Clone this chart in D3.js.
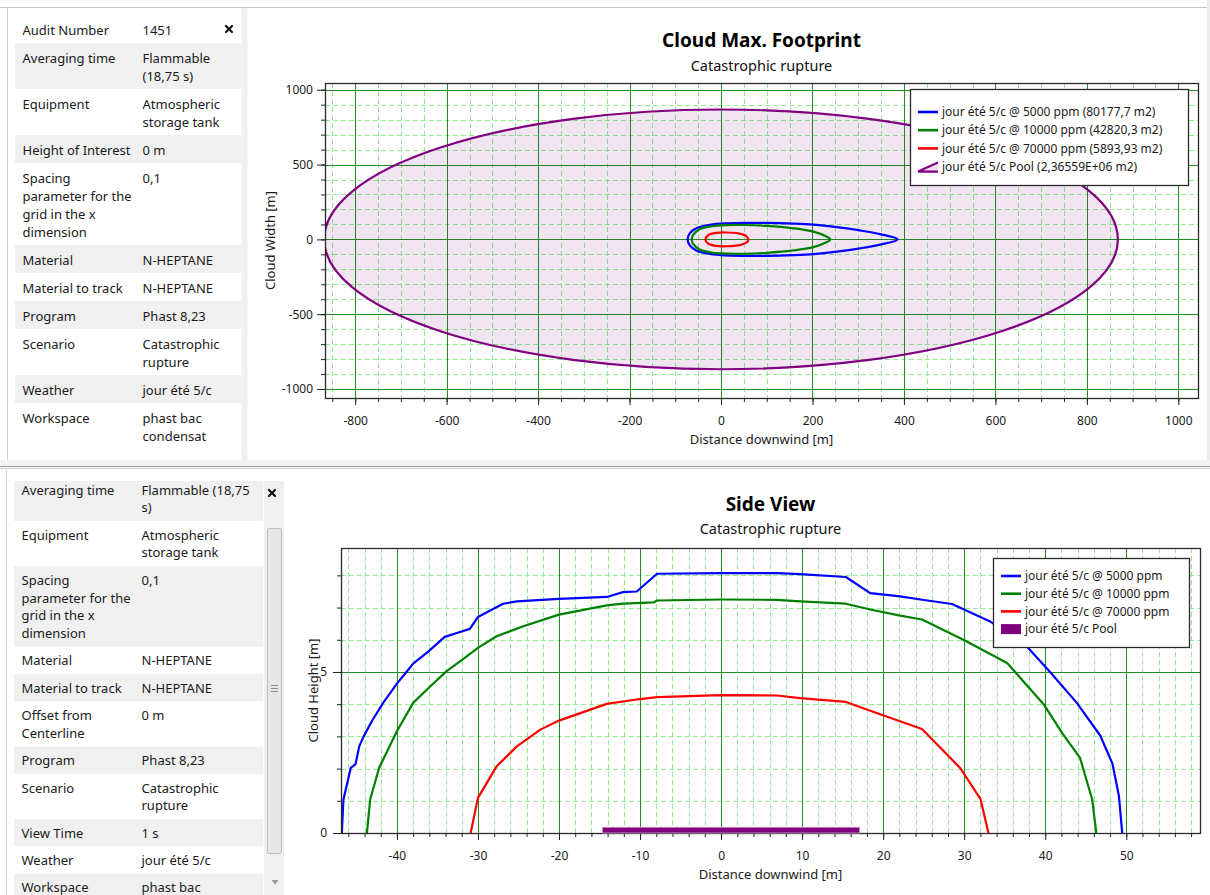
<!DOCTYPE html>
<html><head><meta charset="utf-8">
<script src="https://cdn.jsdelivr.net/npm/d3@7"></script>
<style>
html,body{margin:0;padding:0;background:#fff;overflow:hidden}
svg{display:block;font-family:"Noto Sans",sans-serif}
</style></head><body>
<svg id="c" width="1210" height="895"></svg>
<script>
// ---------------- DATA ----------------
// property tables
const footprintPropLabels = [["Audit Number"],["Averaging time"],["Equipment"],["Height of Interest"],["Spacing","parameter for the","grid in the x","dimension"],["Material"],["Material to track"],["Program"],["Scenario"],["Weather"],["Workspace"]];
const footprintPropValues = [["1451"],["Flammable","(18,75 s)"],["Atmospheric","storage tank"],["0 m"],["0,1"],["N-HEPTANE"],["N-HEPTANE"],["Phast 8,23"],["Catastrophic","rupture"],["jour été 5/c"],["phast bac","condensat"]];
const sidePropLabels = [["Averaging time"],["Equipment"],["Spacing","parameter for the","grid in the x","dimension"],["Material"],["Material to track"],["Offset from","Centerline"],["Program"],["Scenario"],["View Time"],["Weather"],["Workspace"]];
const sidePropValues = [["Flammable (18,75","s)"],["Atmospheric","storage tank"],["0,1"],["N-HEPTANE"],["N-HEPTANE"],["0 m"],["Phast 8,23"],["Catastrophic","rupture"],["1 s"],["jour été 5/c"],["phast bac"]];

// Cloud Max. Footprint: half-width profiles [distance, half width] (symmetric about y = 0)
const footprintNames = ["jour été 5/c @ 5000 ppm (80177,7 m2)","jour été 5/c @ 10000 ppm (42820,3 m2)","jour été 5/c @ 70000 ppm (5893,93 m2)","jour été 5/c Pool (2,36559E+06 m2)"];
const fp5000  = [[-73,0],[-68,42],[-53,76],[-31,94],[0,105],[49,110],[100,110],[158,105],[202,98],[253,82],[304,60],[348,35],[386,0]];
const fp10000 = [[-64,0],[-61,30],[-46,69],[-24,86],[0,94],[49,96],[100,90],[158,74],[202,52],[228,23],[239,0]];
const fp70000 = [[-34,0],[-28,29],[-10,44],[12,46],[38,40],[55,22],[60,0]];
const poolCenter = [0, 0];
const poolRadius = 867.8;
const fpXDomain = [-866, 1043];
const fpYDomain = [-1060, 1045];
const fpXTickLabels = [-800,-600,-400,-200,0,200,400,600,800,1000];
const fpYTickLabels = [-1000,-500,0,500,1000];

// Side View: [distance downwind, cloud height]
const sideNames = ["jour été 5/c @ 5000 ppm","jour été 5/c @ 10000 ppm","jour été 5/c @ 70000 ppm","jour été 5/c Pool"];
const side5000 = [[-46.8,0],[-46.6,1.04],[-45.7,2.02],[-45.1,2.14],[-44.65,2.69],[-44.1,3.0],[-43.1,3.47],[-41.7,4.04],[-40.0,4.64],[-38.6,5.07],[-38.0,5.26],[-36.1,5.64],[-34.1,6.09],[-32.6,6.21],[-31.0,6.34],[-30.0,6.71],[-26.9,7.12],[-25.2,7.19],[-20.0,7.27],[-14.1,7.33],[-12.1,7.48],[-10.4,7.5],[-7.9,8.05],[0,8.07],[6.9,8.07],[9.75,8.04],[15.4,7.95],[18.4,7.45],[22.1,7.35],[24.6,7.25],[28.5,7.11],[33.2,6.57],[37.7,5.8],[40.6,5.0],[43.9,4.04],[46.8,3.02],[48.3,2.15],[49.1,1.14],[49.5,0]];
const side10000 = [[-43.7,0],[-43.3,1.04],[-42.2,2.02],[-40.0,3.16],[-38.0,4.04],[-35.9,4.55],[-33.9,5.02],[-31.8,5.41],[-30.0,5.75],[-27.7,6.11],[-24.4,6.42],[-20.0,6.78],[-14.1,7.07],[-12.1,7.12],[-8.35,7.16],[-7.9,7.22],[0,7.25],[6.9,7.24],[9.75,7.19],[15.4,7.12],[18.4,6.94],[22.1,6.75],[24.8,6.63],[29.9,6.0],[35.3,5.28],[39.8,4.0],[42.1,3.1],[44.3,2.33],[45.8,1.04],[46.3,0]];
const side70000 = [[-30.9,0],[-30.0,1.09],[-27.7,2.07],[-25.2,2.69],[-22.3,3.21],[-20.0,3.49],[-14.1,4.01],[-10.0,4.16],[-7.9,4.22],[0,4.28],[6.9,4.27],[9.75,4.19],[15.4,4.07],[19.8,3.67],[24.8,3.23],[29.5,2.02],[32.0,1.06],[33.0,0]];
const sidePoolExtent = [-14.65, 17.1];
const sidePoolHeight = 0.18;
const svXDomain = [-46.9, 59.1];
const svYDomain = [0, 8.85];
const svXTickLabels = [-40,-30,-20,-10,0,10,20,30,40,50];
const svYTickLabels = [0,5];

// ---------------- STYLE ----------------
const seriesColors = ["#0000ff","#008000","#ff0000","#800080"];
const MAJOR_GRID = "#1f8f1f", MINOR_GRID = "#92ec92";
const svg = d3.select("#c");

// ---------------- WINDOW CHROME ----------------
svg.append("rect").attr("width",1210).attr("height",895).attr("fill","#fff");
svg.append("rect").attr("x",1207).attr("y",0).attr("width",3).attr("height",466).attr("fill","#ececec");
svg.append("line").attr("x1",0).attr("x2",1207).attr("y1",7.5).attr("y2",7.5).attr("stroke","#c6c6c6");
svg.append("rect").attr("x",0).attr("y",460).attr("width",1210).attr("height",6).attr("fill","#f3f3f3");
svg.append("line").attr("x1",0).attr("x2",1210).attr("y1",466.5).attr("y2",466.5).attr("stroke","#9a9a9a");
svg.append("line").attr("x1",0).attr("x2",1210).attr("y1",468.5).attr("y2",468.5).attr("stroke","#cfcfcf");

function drawX(cx, cy){
  const g = svg.append("g").attr("stroke","#111").attr("stroke-width",2.2).attr("stroke-linecap","round");
  g.append("line").attr("x1",cx-3).attr("y1",cy-3).attr("x2",cx+3).attr("y2",cy+3);
  g.append("line").attr("x1",cx+3).attr("y1",cy-3).attr("x2",cx-3).attr("y2",cy+3);
}

function drawPanel(cfg, labels, values){
  const id = "clip"+Math.round(cfg.clipY);
  svg.append("clipPath").attr("id",id).append("rect")
    .attr("x",0).attr("y",cfg.clipY).attr("width",cfg.rowX+cfg.rowW).attr("height",cfg.clipH);
  const g = svg.append("g").attr("clip-path",`url(#${id})`).attr("font-size",13).attr("fill","#1a1a1a");
  let yy = cfg.startY;
  labels.forEach((lab,i)=>{
    const val = values[i];
    const n = Math.max(lab.length, val.length);
    const h = cfg.base + cfg.per*n;
    const gray = cfg.firstGray ? (i%2===0) : (i%2===1);
    g.append("rect").attr("x",cfg.rowX).attr("y",yy).attr("width",cfg.rowW).attr("height",h).attr("fill",gray?"#f0f0f0":"#ffffff");
    lab.forEach((t,j)=>g.append("text").attr("x",cfg.c1).attr("y",yy+cfg.first+j*cfg.per).attr("dy","0.35em").text(t));
    val.forEach((t,j)=>g.append("text").attr("x",cfg.c2).attr("y",yy+cfg.first+j*cfg.per).attr("dy","0.35em").text(t));
    yy += h;
  });
}

// top panel
svg.append("rect").attr("x",241.5).attr("y",8).attr("width",6).attr("height",452).attr("fill","#f0f0f0");
svg.append("line").attr("x1",7.5).attr("x2",7.5).attr("y1",7.5).attr("y2",460).attr("stroke","#d0d0d0");
drawPanel({startY:15, base:10, per:18, first:15, rowX:15, rowW:226.5, c1:22.5, c2:142.5, clipY:15, clipH:445, firstGray:false}, footprintPropLabels, footprintPropValues);
drawX(229, 29);

// bottom panel
svg.append("line").attr("x1",6.5).attr("x2",6.5).attr("y1",470).attr("y2",895).attr("stroke","#d0d0d0");
drawPanel({startY:476, base:9.6, per:17.75, first:14, rowX:14, rowW:249.5, c1:21.5, c2:141.5, clipY:481, clipH:414, firstGray:true}, sidePropLabels, sidePropValues);
svg.append("rect").attr("x",264).attr("y",481).attr("width",20).attr("height",414).attr("fill","#f0f0f0");
drawX(272, 493);
svg.append("rect").attr("x",267.5).attr("y",528.5).attr("width",14).attr("height",325).attr("rx",2)
  .attr("fill","#e6e6e6").attr("stroke","#bdbdbd");
[-3,0,3].forEach(d=>svg.append("line").attr("x1",271).attr("x2",278).attr("y1",688+d+0.5).attr("y2",688+d+0.5).attr("stroke","#8a8a8a"));
svg.append("path").attr("d","M271.5,880 L278.5,880 L275,884.5 Z").attr("fill","#9a9a9a");

// ---------------- CHART HELPER ----------------
function drawChart(cfg){
  const {L,T,R,B} = cfg.plot;
  const x = d3.scaleLinear().domain(cfg.xDomain).range([L,R]);
  const y = d3.scaleLinear().domain(cfg.yDomain).range([B,T]);
  const g = svg.append("g");
  const cx = (L+R)/2;
  g.append("text").attr("x",cx).attr("y",cfg.titleY).attr("dy","0.35em").attr("text-anchor","middle")
    .attr("font-size",19).attr("font-weight","bold").attr("fill","#000").text(cfg.title);
  g.append("text").attr("x",cx).attr("y",cfg.subY).attr("dy","0.35em").attr("text-anchor","middle")
    .attr("font-size",14.5).attr("fill","#111").text(cfg.subtitle);
  // grid
  const grid = g.append("g");
  const xMin = cfg.xMinor.filter(v=>!cfg.xMajor.includes(v));
  const yMin = cfg.yMinor.filter(v=>!cfg.yMajor.includes(v));
  grid.selectAll(".xm").data(xMin).join("line").attr("x1",d=>Math.round(x(d))+0.5).attr("x2",d=>Math.round(x(d))+0.5)
    .attr("y1",T).attr("y2",B).attr("stroke",MINOR_GRID).attr("stroke-dasharray","5,3");
  grid.selectAll(".ym").data(yMin).join("line").attr("y1",d=>Math.round(y(d))+0.5).attr("y2",d=>Math.round(y(d))+0.5)
    .attr("x1",L).attr("x2",R).attr("stroke",MINOR_GRID).attr("stroke-dasharray","5,3");
  grid.selectAll(".xM").data(cfg.xMajor).join("line").attr("x1",d=>Math.round(x(d))+0.5).attr("x2",d=>Math.round(x(d))+0.5)
    .attr("y1",T).attr("y2",B).attr("stroke",MAJOR_GRID);
  grid.selectAll(".yM").data(cfg.yMajor).join("line").attr("y1",d=>Math.round(y(d))+0.5).attr("y2",d=>Math.round(y(d))+0.5)
    .attr("x1",L).attr("x2",R).attr("stroke",MAJOR_GRID);
  // axes
  const axStyle = sel => { sel.select(".domain").remove(); sel.selectAll("line").attr("stroke","#222");
    sel.selectAll("text").attr("font-size",12).attr("fill","#1a1a1a").attr("font-family",'"Noto Sans",sans-serif'); };
  g.append("g").attr("transform",`translate(0,${B})`).call(d3.axisBottom(x).tickValues(cfg.xMinor).tickSize(4).tickFormat("")).call(axStyle);
  g.append("g").attr("transform",`translate(0,${B})`).call(d3.axisBottom(x).tickValues(cfg.xMajor).tickSize(7).tickPadding(11).tickFormat(d=>String(d))).call(axStyle);
  g.append("g").attr("transform",`translate(${L},0)`).call(d3.axisLeft(y).tickValues(cfg.yMinor).tickSize(4).tickFormat("")).call(axStyle);
  g.append("g").attr("transform",`translate(${L},0)`).call(d3.axisLeft(y).tickValues(cfg.yMajor).tickSize(8).tickPadding(cfg.yPad).tickFormat(d=>String(d))).call(axStyle);
  g.append("text").attr("x",cx).attr("y",cfg.xTitleY).attr("dy","0.35em").attr("text-anchor","middle").attr("font-size",13).attr("fill","#1a1a1a").text(cfg.xTitle);
  g.append("text").attr("transform",`translate(${cfg.yTitleX},${(T+B)/2}) rotate(-90)`).attr("dy","0.35em").attr("text-anchor","middle").attr("font-size",13).attr("fill","#1a1a1a").text(cfg.yTitle);
  const clipId = "pc"+Math.round(T);
  svg.append("clipPath").attr("id",clipId).append("rect").attr("x",L).attr("y",T).attr("width",R-L).attr("height",B-T);
  const content = g.append("g").attr("clip-path",`url(#${clipId})`);
  const frame = () => g.append("rect").attr("x",L+0.5).attr("y",T+0.5).attr("width",R-L).attr("height",B-T).attr("fill","none").attr("stroke","#2a2a2a").attr("stroke-width",1.3);
  return {x,y,g,content,frame};
}

function drawLegend(g, box, names, symbols){
  g.append("rect").attr("x",box.x+0.5).attr("y",box.y+0.5).attr("width",box.w).attr("height",box.h)
    .attr("fill","#fff").attr("stroke","#2a2a2a").attr("stroke-width",1.3);
  names.forEach((n,i)=>{
    const cy = box.y + box.first + i*box.step;
    const sx = box.x + 8;
    symbols[i](g, sx, cy);
    g.append("text").attr("x",sx+24).attr("y",cy).attr("dy","0.35em").attr("font-size",12).attr("fill","#1a1a1a").text(n);
  });
}
const lineSym = c => (g,sx,cy)=>g.append("line").attr("x1",sx).attr("x2",sx+20).attr("y1",cy).attr("y2",cy).attr("stroke",c).attr("stroke-width",2.6);

// ---------------- TOP CHART ----------------
const fpChart = drawChart({
  plot:{L:325,T:83,R:1198,B:398}, xDomain:fpXDomain, yDomain:fpYDomain,
  xMajor:fpXTickLabels, xMinor:d3.range(-850,1001,50), yMajor:fpYTickLabels, yMinor:d3.range(-1000,1001,100),
  title:"Cloud Max. Footprint", subtitle:"Catastrophic rupture", titleY:40, subY:66,
  xTitle:"Distance downwind [m]", yTitle:"Cloud Width [m]", xTitleY:439, yTitleX:270, yPad:4
});
{
  const {x,y,content} = fpChart;
  content.append("ellipse").attr("cx",x(poolCenter[0])).attr("cy",y(poolCenter[1]))
    .attr("rx",x(poolCenter[0]+poolRadius)-x(poolCenter[0])).attr("ry",y(poolCenter[1])-y(poolCenter[1]+poolRadius))
    .attr("fill","rgba(128,0,128,0.1)").attr("stroke",seriesColors[3]).attr("stroke-width",2.2);
  const outline = d3.line().x(d=>x(d[0])).y(d=>y(d[1])).curve(d3.curveCatmullRomClosed.alpha(0.5));
  const closed = prof => prof.concat(prof.slice(1,-1).reverse().map(d=>[d[0],-d[1]]));
  [fp5000, fp10000, fp70000].forEach((prof,i)=>{
    content.append("path").attr("d",outline(closed(prof))).attr("fill","none").attr("stroke",seriesColors[i]).attr("stroke-width",2.2);
  });
  fpChart.frame();
  drawLegend(fpChart.g, {x:910, y:89, w:278, h:96, first:23, step:18.2}, footprintNames, [
    lineSym(seriesColors[0]), lineSym(seriesColors[1]), lineSym(seriesColors[2]),
    (g,sx,cy)=>{
      g.append("path").attr("d",`M${sx},${cy+5} L${sx+20},${cy-4} L${sx+20},${cy+5} Z`).attr("fill","rgba(128,0,128,0.12)");
      g.append("path").attr("d",`M${sx+20},${cy-4} L${sx},${cy+5} L${sx+20},${cy+5}`).attr("fill","none").attr("stroke",seriesColors[3]).attr("stroke-width",2.2);
    }
  ]);
}

// ---------------- BOTTOM CHART ----------------
const svChart = drawChart({
  plot:{L:341,T:548,R:1200,B:833}, xDomain:svXDomain, yDomain:svYDomain,
  xMajor:svXTickLabels, xMinor:d3.range(-46,59,2), yMajor:svYTickLabels, yMinor:d3.range(0,9,1),
  title:"Side View", subtitle:"Catastrophic rupture", titleY:504, subY:529,
  xTitle:"Distance downwind [m]", yTitle:"Cloud Height [m]", xTitleY:874, yTitleX:313, yPad:6
});
{
  const {x,y,content,g} = svChart;
  const line = d3.line().x(d=>x(d[0])).y(d=>y(d[1]));
  [side5000, side10000, side70000].forEach((s,i)=>{
    content.append("path").attr("d",line(s)).attr("fill","none").attr("stroke",seriesColors[i]).attr("stroke-width",2.2).attr("stroke-linejoin","round");
  });
  svChart.frame();
  g.append("rect").attr("x",x(sidePoolExtent[0])).attr("y",y(sidePoolHeight)).attr("width",x(sidePoolExtent[1])-x(sidePoolExtent[0]))
    .attr("height",y(0)-y(sidePoolHeight)).attr("fill",seriesColors[3]).attr("stroke","#d7a8d7").attr("stroke-width",0.8);
  drawLegend(g, {x:993, y:558, w:196, h:89, first:18, step:17.7}, sideNames, [
    lineSym(seriesColors[0]), lineSym(seriesColors[1]), lineSym(seriesColors[2]),
    (g2,sx,cy)=>g2.append("rect").attr("x",sx).attr("y",cy-5).attr("width",20).attr("height",10).attr("fill",seriesColors[3])
  ]);
}
</script>
</body></html>
